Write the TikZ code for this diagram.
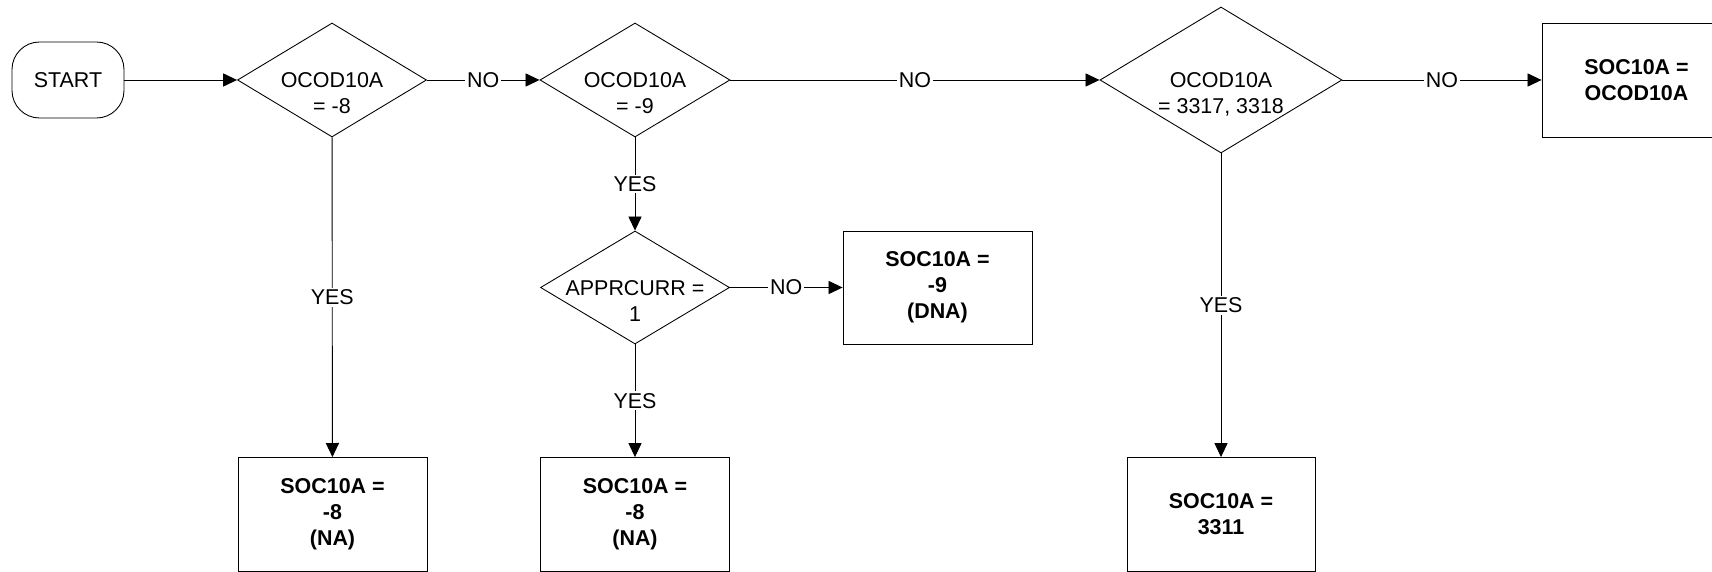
\documentclass[tikz,border=0pt]{standalone}
\usepackage{fontspec}
\setmainfont{Liberation Sans}
\usetikzlibrary{shapes.geometric,arrows.meta}

\begin{document}
\begin{tikzpicture}[line width=0.5pt, font=\fontsize{12.2}{14.7}\selectfont,
  cond/.style={draw, diamond, inner sep=0pt, minimum width=3.78cm, minimum height=2.28cm},
  condtxt/.style={align=center, inner sep=0pt, anchor=north, yshift=4.4pt},
  res/.style={draw, align=center, font=\fontsize{12.2}{14.7}\selectfont\bfseries,
    minimum width=3.78cm, minimum height=2.28cm},
  flow/.style={-{Triangle[length=8pt,width=7.5pt]}},
  lbl/.style={fill=white, inner sep=1pt}]
  \useasboundingbox (0,0) rectangle (34.24,-11.44);
  % Start
  \node[draw, rounded corners=0.55cm, minimum width=2.24cm, minimum height=1.52cm] (start) at (1.36,-1.6) {START};
  % Decisions on the top row
  \node[cond] (d1) at (6.64,-1.6) {};
  \node[condtxt] (d1t) at (d1.center) {OCOD10A\\= -8};
  \node[cond, minimum width=3.8cm] (d2) at (12.7,-1.6) {};
  \node[condtxt] (d2t) at (d2.center) {OCOD10A\\= -9};
  \node[cond, minimum width=4.84cm, minimum height=2.92cm] (d3) at (24.42,-1.6) {};
  \node[condtxt] (d3t) at (d3.center) {OCOD10A\\= 3317, 3318};
  % Second decision under -9
  \node[cond, minimum height=2.26cm] (d4) at (12.7,-5.75) {};
  \node[condtxt] (d4t) at (d4.center) {APPRCURR =\\1};
  % Results
  \node[res] (r1) at (6.65,-10.29) {SOC10A =\\-8\\(NA)};
  \node[res] (r2) at (12.7,-10.29) {SOC10A =\\-8\\(NA)};
  \node[res, minimum height=2.26cm] (r3) at (18.75,-5.75) {SOC10A =\\-9\\(DNA)};
  \node[res, minimum width=3.76cm] (r4) at (24.42,-10.29) {SOC10A =\\3311};
  \node[res] (r5) at (32.73,-1.6) {SOC10A =\\OCOD10A};
  % Connectors
  \draw[flow] (start) -- (d1);
  \draw[flow] (d1) -- node[lbl] {NO} (d2);
  \draw[flow] (d2) -- node[lbl] {NO} (d3);
  \draw[flow] (d3) -- node[lbl] {NO} (r5);
  \draw[flow] (d1) -- node[lbl] {YES} (r1);
  \draw[flow] (d2) -- node[lbl] {YES} (d4);
  \draw[flow] (d4) -- node[lbl] {NO} (r3);
  \draw[flow] (d4) -- node[lbl] {YES} (r2);
  \draw[flow] (d3) -- node[lbl] {YES} (r4);
\end{tikzpicture}
\end{document}
